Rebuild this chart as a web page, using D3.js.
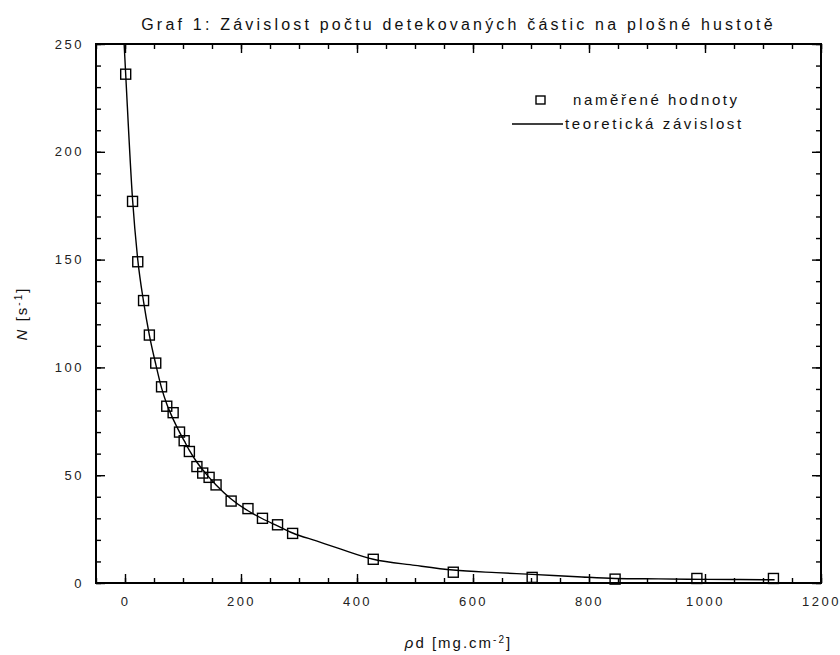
<!DOCTYPE html>
<html>
<head>
<meta charset="utf-8">
<script src="https://cdn.jsdelivr.net/npm/d3@7"></script>
<style>
  body { margin: 0; background: #fff; }
  text { font-family: 'Liberation Sans', Arial, sans-serif; fill: #111; }
  .tick line { stroke: #000; stroke-width: 1.4; }
  .tick text { font-size: 13px; letter-spacing: 2.5px; fill: #222; }
  .path-theory { fill: none; stroke: #000; stroke-width: 1.4; }
  .marker { fill: none; stroke: #000; stroke-width: 1.4; }
  .title { font-size: 16px; letter-spacing: 3.2px; }
  .legend-text { font-size: 15px; letter-spacing: 2.6px; }
  .axis-label { font-size: 15px; letter-spacing: 2px; }
</style>
</head>
<body>
<div id="chart"></div>
<script>
const titleText = 'Graf 1: Závislost počtu detekovaných částic na plošné hustotě'
const legendLabels = ['naměřené hodnoty', 'teoretická závislost']

const xMajorTicks = [0, 200, 400, 600, 800, 1000, 1200]
const yMajorTicks = [0, 50, 100, 150, 200, 250]

// measured points (rho*d, N)
const measuredX = [1.2, 13, 22, 32, 42, 53, 63, 72, 83, 94, 102, 111, 124, 134, 145, 157, 183, 212, 237, 263, 289, 428, 566, 702, 845, 986, 1118]
const measuredY = [236, 177, 149, 131, 115, 102, 91, 82, 79, 70, 66, 61, 54, 51, 49, 45.5, 38, 34.5, 30, 27, 23, 11, 5, 2.6, 1.8, 2.1, 2.1]

// theoretical curve
const theoryX = [-1.5, 1.2, 13, 22, 32, 42, 53, 63, 72, 83, 94, 102, 111, 124, 134, 145, 157, 183, 212, 237, 263, 289, 330, 371, 428, 500, 566, 640, 702, 780, 845, 920, 1000, 1060, 1120]
const theoryY = [250, 236, 178, 150, 130.5, 115, 101.5, 90.5, 83, 76, 70, 66, 61.5, 56, 52.5, 49, 45.5, 39, 33.5, 29.8, 26.5, 23.2, 19.5, 15.8, 11, 8.2, 6, 4.8, 4, 2.9, 2.1, 1.9, 1.7, 1.6, 1.5]

const width = 840
const height = 655
const margin = { top: 44, right: 19, bottom: 72, left: 96 }
const innerWidth = width - margin.left - margin.right
const innerHeight = height - margin.top - margin.bottom

const svg = d3.select('#chart')
  .append('svg')
  .attr('width', width)
  .attr('height', height)

const g = svg.append('g')
  .attr('transform', `translate(${margin.left}, ${margin.top})`)

//===========================================================================

const xScale = d3.scaleLinear().domain([-50, 1200]).range([0, innerWidth])
const yScale = d3.scaleLinear().domain([0, 250]).range([innerHeight, 0])

const xMinorTicks = d3.range(-50, 1201, 50)
const yMinorTicks = d3.range(0, 251, 10)

function addAxis(axis, transform, labels) {
  const a = g.append('g')
    .attr('transform', transform)
    .call(axis)
  a.select('.domain').remove()
  // tick-only axes: drop the empty label nodes
  if (!labels) a.selectAll('.tick text').remove()
  return a
}

// minor ticks on all four sides, pointing inward
addAxis(d3.axisBottom(xScale).tickValues(xMinorTicks).tickSize(-5), `translate(0, ${innerHeight})`)
addAxis(d3.axisTop(xScale).tickValues(xMinorTicks).tickSize(-5), 'translate(0, 0)')
addAxis(d3.axisLeft(yScale).tickValues(yMinorTicks).tickSize(-5), 'translate(0, 0)')
addAxis(d3.axisRight(yScale).tickValues(yMinorTicks).tickSize(-5), `translate(${innerWidth}, 0)`)

// major ticks + labels
addAxis(d3.axisBottom(xScale).tickValues(xMajorTicks).tickSize(-9).tickPadding(14).tickFormat(d3.format('d')), `translate(0, ${innerHeight})`, true)
addAxis(d3.axisTop(xScale).tickValues(xMajorTicks).tickSize(-9), 'translate(0, 0)')
addAxis(d3.axisLeft(yScale).tickValues(yMajorTicks).tickSize(-9).tickPadding(12).tickFormat(d3.format('d')), 'translate(0, 0)', true)
addAxis(d3.axisRight(yScale).tickValues(yMajorTicks).tickSize(-9), `translate(${innerWidth}, 0)`)

// plot frame
const [x0, x1] = xScale.range()
const [y1, y0] = yScale.range()
g.append('path')
  .attr('d', `M${x0},${y0}H${x1}V${y1}H${x0}Z`)
  .attr('fill', 'none')
  .attr('stroke', '#000')
  .attr('stroke-width', 2)

g.append('clipPath')
  .attr('id', 'plot_clip')
  .append('rect')
  .attr('width', innerWidth)
  .attr('height', innerHeight)

//===========================================================================

const theoryData = theoryX.map((x, i) => ({ x, y: theoryY[i] }))
const measuredData = measuredX.map((x, i) => ({ x, y: measuredY[i] }))

const theoryLine = d3.line()
  .x(d => xScale(d.x))
  .y(d => yScale(d.y))
  .curve(d3.curveMonotoneX)

g.append('path')
  .datum(theoryData)
  .attr('class', 'path-theory')
  .attr('clip-path', 'url(#plot_clip)')
  .attr('d', theoryLine)

const box = 10
g.selectAll('.marker')
  .data(measuredData)
  .enter()
  .append('rect')
  .attr('class', 'marker')
  .attr('x', d => xScale(d.x) - box / 2)
  .attr('y', d => yScale(d.y) - box / 2)
  .attr('width', box)
  .attr('height', box)

//===========================================================================

// Legend
const legend = svg.append('g')
legend.append('rect')
  .attr('class', 'marker')
  .attr('x', 536)
  .attr('y', 96)
  .attr('width', 9)
  .attr('height', 8)
legend.append('text')
  .attr('class', 'legend-text')
  .attr('x', 573)
  .attr('y', 105)
  .text(legendLabels[0])
legend.append('line')
  .attr('x1', 512).attr('x2', 563)
  .attr('y1', 124).attr('y2', 124)
  .attr('stroke', '#000')
  .attr('stroke-width', 1.4)
legend.append('text')
  .attr('class', 'legend-text')
  .attr('x', 565)
  .attr('y', 129)
  .text(legendLabels[1])

// Title
svg.append('text')
  .attr('class', 'title')
  .attr('x', margin.left + innerWidth / 2)
  .attr('y', 30)
  .attr('text-anchor', 'middle')
  .text(titleText)

// X label
const xLabel = svg.append('text')
  .attr('class', 'axis-label')
  .attr('x', margin.left + innerWidth / 2)
  .attr('y', 648)
  .attr('text-anchor', 'middle')
xLabel.append('tspan').attr('font-style', 'italic').text('ρ')
xLabel.append('tspan').text('d [mg.cm')
xLabel.append('tspan').attr('baseline-shift', 'super').attr('font-size', '10px').text('-2')
xLabel.append('tspan').text(']')

// Y label
const yLabel = svg.append('text')
  .attr('class', 'axis-label')
  .attr('transform', `translate(27, ${margin.top + innerHeight / 2}) rotate(-90)`)
  .attr('text-anchor', 'middle')
yLabel.append('tspan').attr('font-style', 'italic').text('N')
yLabel.append('tspan').text(' [s')
yLabel.append('tspan').attr('baseline-shift', 'super').attr('font-size', '10px').text('-1')
yLabel.append('tspan').text(']')
</script>
</body>
</html>
